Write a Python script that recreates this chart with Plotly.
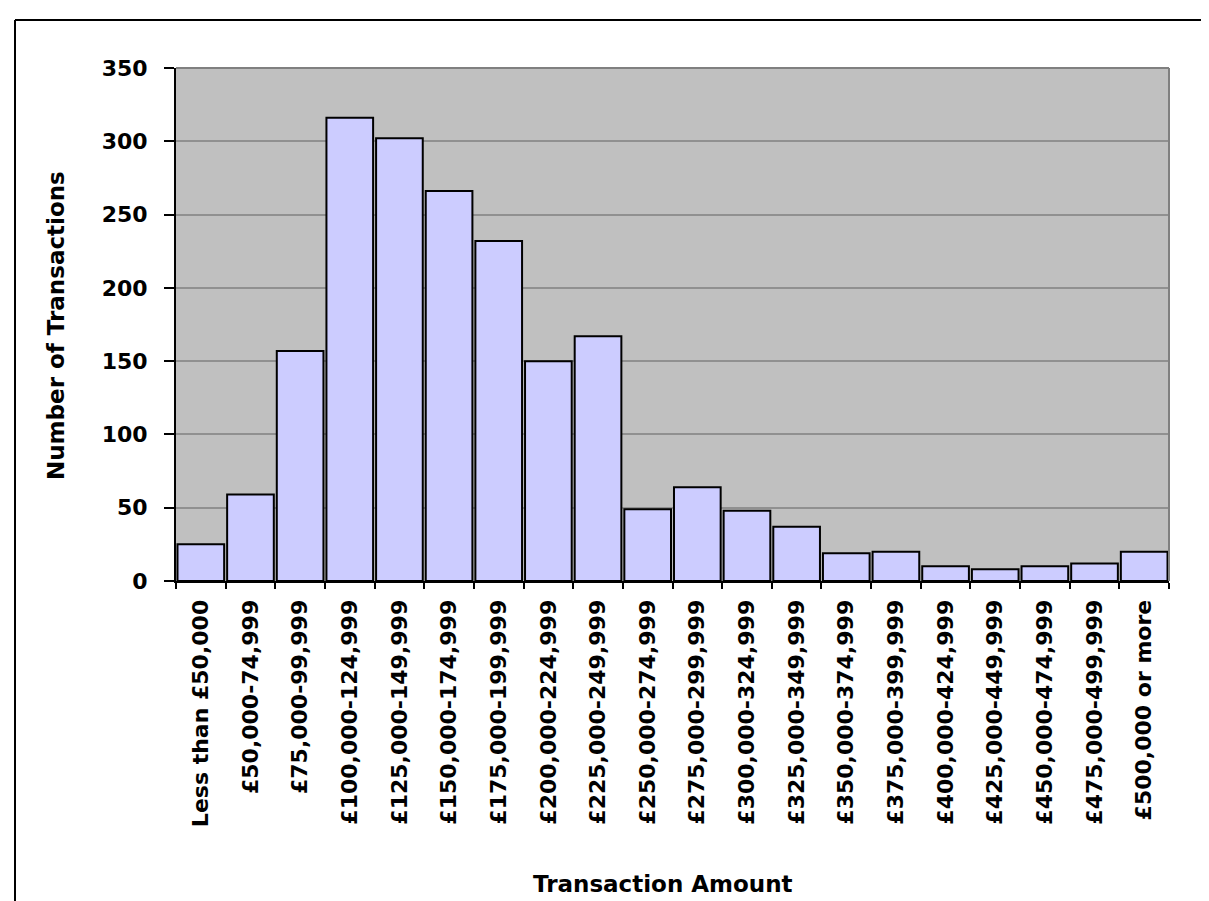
import plotly.graph_objects as go

categories = [
    "Less than £50,000", "£50,000-74,999", "£75,000-99,999", "£100,000-124,999",
    "£125,000-149,999", "£150,000-174,999", "£175,000-199,999", "£200,000-224,999",
    "£225,000-249,999", "£250,000-274,999", "£275,000-299,999", "£300,000-324,999",
    "£325,000-349,999", "£350,000-374,999", "£375,000-399,999", "£400,000-424,999",
    "£425,000-449,999", "£450,000-474,999", "£475,000-499,999", "£500,000 or more",
]
transactions = [25, 59, 157, 316, 302, 266, 232, 150, 167, 49, 64, 48, 37, 19, 20, 10, 8, 10, 12, 20]
y_ticks = [0, 50, 100, 150, 200, 250, 300, 350]

FONT = "DejaVu Sans"

fig = go.Figure(go.Bar(
    x=categories, y=transactions,
    marker=dict(color="#CCCCFF", line=dict(color="black", width=2)),
))

W, H = 1209, 901
L, R, T, B = 168, 48, 60, 328
pw, ph = W - L - R, H - T - B

def px_x(p):
    return (p - L) / pw

def px_y(p):
    return (H - B - p) / ph

fig.update_layout(
    width=W, height=H,
    margin=dict(l=L, r=R, t=T, b=B),
    paper_bgcolor="white", plot_bgcolor="#C0C0C0",
    bargap=0.06, showlegend=False,
    font=dict(family=FONT, color="black"),
    xaxis=dict(
        type="category", tickangle=-90, tickson="boundaries",
        ticks="outside", ticklen=6, tickwidth=2, tickcolor="black",
        showline=True, linecolor="black", linewidth=2,
        tickfont=dict(family=FONT, size=22, weight="bold", color="black"),
        ticklabelstandoff=8, showgrid=False,
    ),
    yaxis=dict(
        range=[0, 350], tickvals=y_ticks,
        ticks="outside", ticklen=10, tickwidth=2, tickcolor="black",
        showline=True, linecolor="black", linewidth=2,
        showgrid=True, gridcolor="#909090", gridwidth=2,
        tickfont=dict(family=FONT, size=22, weight="bold", color="black"),
        ticklabelstandoff=12, zeroline=False,
    ),
    annotations=[
        dict(text="Number of Transactions", xref="paper", yref="paper",
             x=px_x(48), y=px_y(318), textangle=-90, showarrow=False,
             xanchor="center", yanchor="middle",
             font=dict(family=FONT, size=23, weight="bold", color="black")),
        dict(text="Transaction Amount", xref="paper", yref="paper",
             x=px_x(655), y=px_y(876), showarrow=False,
             xanchor="center", yanchor="middle",
             font=dict(family=FONT, size=23, weight="bold", color="black")),
    ],
    shapes=[
        # plot area top/right border
        dict(type="line", xref="paper", yref="paper", x0=0, x1=1, y0=1, y1=1,
             line=dict(color="#808080", width=2)),
        dict(type="line", xref="paper", yref="paper", x0=1, x1=1, y0=0, y1=1,
             line=dict(color="#808080", width=2)),
        # outer chart border (left and top visible)
        dict(type="line", xref="paper", yref="paper", x0=px_x(7), x1=px_x(1215),
             y0=px_y(12), y1=px_y(12), line=dict(color="black", width=2)),
        dict(type="line", xref="paper", yref="paper", x0=px_x(7), x1=px_x(7),
             y0=px_y(12), y1=px_y(910), line=dict(color="black", width=2)),
    ],
)

fig.write_html("out.html")
